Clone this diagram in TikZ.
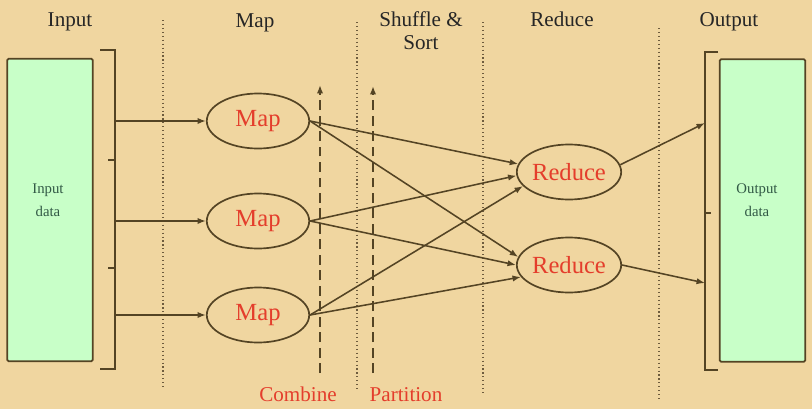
\documentclass[tikz,border=0pt]{standalone}
\usepackage{fontspec}
\setmainfont{Liberation Serif}
\usepackage{tikz}
\usetikzlibrary{arrows.meta,shapes,positioning,calc}
\usepackage{xcolor}
\definecolor{Papyrus}{RGB}{240,214,160}
\definecolor{OliveD} {RGB}{84,  68,  36}
\definecolor{MintF}  {RGB}{200,255,200}
\definecolor{RedT}   {RGB}{228, 62,  44}
\definecolor{GreenT} {RGB}{50,  90,  70}
\definecolor{DotG}   {RGB}{110, 92,  62}

\tikzset{
  stage/.style={font=\fontsize{15}{16.5}\selectfont,text=black!85,align=center},
  store/.style={draw=OliveD,line width=1.3pt,fill=MintF,rounded corners=1pt,
    minimum width=2.14cm,minimum height=7.56cm},
  storetext/.style={font=\fontsize{10.5}{16}\selectfont,text=GreenT,align=center},
  task/.style={ellipse,draw=OliveD,line width=1.2pt,minimum width=2.56cm,
    minimum height=1.375cm,inner sep=0pt,text=RedT,font=\fontsize{17.5}{20}\selectfont},
  flow/.style={OliveD,line width=1.1pt,-{Latex[length=6pt,width=4.5pt]}},
  sep/.style={DotG,dotted,line width=0.8pt},
  bar/.style={OliveD,line width=2pt},
  phase/.style={text=RedT,font=\fontsize{15}{17}\selectfont}
}

\begin{document}
\begin{tikzpicture}[x=0.025cm,y=-0.025cm]
  \fill[Papyrus] (0,0) rectangle (812,409);
  \useasboundingbox (0,0) rectangle (812,409);

  \node[stage,anchor=base] (hin)  at (70,26)  {Input};
  \node[stage,anchor=base] (hmap) at (255,27) {Map};
  \node[stage]             (hss)  at (421,31) {Shuffle \&\\Sort};
  \node[stage,anchor=base] (hred) at (562,26) {Reduce};
  \node[stage,anchor=base] (hout) at (729,26) {Output};

  \foreach \x/\a/\b in {163/20/390,357/22/392,483/22/393,659/28/400}
    \draw[sep] (\x,\a) -- (\x,\b);

  \node[store] (inp) at (50,210) {};
  \node[storetext] (inplbl) at (48,200) {Input\\data};
  \node[store] (out) at (762.5,210.5) {};
  \node[storetext] (outlbl) at (757,200) {Output\\data};

  \draw[bar] (100,50) -- (115,50) -- (115,369) -- (100,369);
  \draw[bar] (108,160) -- (115,160);
  \draw[bar] (108,268) -- (115,268);
  \draw[bar] (718,52) -- (705,52) -- (705,370) -- (718,370);
  \draw[bar] (705,213) -- (711,213);

  \coordinate (i1) at (115,121);
  \coordinate (i2) at (115,221);
  \coordinate (i3) at (115,315);
  \coordinate (o1) at (705,123);
  \coordinate (o2) at (705,283);

  \node[task] (m1) at (258,121) {Map};
  \node[task] (m2) at (258,221) {Map};
  \node[task] (m3) at (258,315) {Map};
  \node[task] (r1) at (569,172) {Reduce};
  \node[task] (r2) at (569,265) {Reduce};

  \draw[flow] (i1) -- (m1);
  \draw[flow] (i2) -- (m2);
  \draw[flow] (i3) -- (m3);

  \draw[flow] (m1.east) -- (r1.171);
  \draw[flow] (m2.east) -- (r1.184);
  \draw[flow] (m3.east) -- (r1.197);
  \draw[flow] (m1.east) -- (r2.171);
  \draw[flow] (m2.east) -- (r2.180);
  \draw[flow] (m3.east) -- (r2.194);

  \draw[flow] (r1.8) -- (o1);
  \draw[flow] (r2.east) -- (o2);

  \coordinate (cbot) at (320,373);
  \coordinate (ctop) at (320,85);
  \coordinate (pbot) at (373,373);
  \coordinate (ptop) at (373,86);
  \draw[flow,dash pattern=on 7pt off 4pt] (cbot) -- (ctop);
  \draw[flow,dash pattern=on 7pt off 4pt] (pbot) -- (ptop);

  \node[phase,anchor=base] (cmb) at (298,401) {Combine};
  \node[phase,anchor=base] (prt) at (406,401) {Partition};
\end{tikzpicture}
\end{document}
